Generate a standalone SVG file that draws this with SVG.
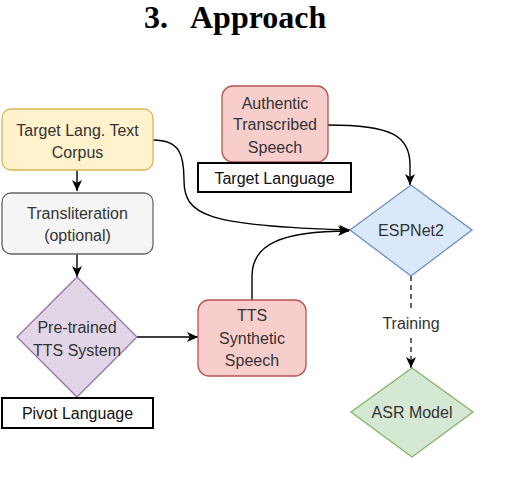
<svg xmlns="http://www.w3.org/2000/svg" width="508" height="490" viewBox="0 0 508 490">
<defs>
<marker id="arr" markerWidth="12" markerHeight="11" refX="11" refY="5.5" orient="auto" markerUnits="userSpaceOnUse">
<path d="M0,0.5 L11,5.5 L0,10.5 L3,5.5 Z" fill="#000"/>
</marker>
</defs>
<style>
.t{font-family:"Liberation Sans",Arial,sans-serif;font-size:16px;fill:#333;text-anchor:middle}
.tb{font-family:"Liberation Sans",Arial,sans-serif;font-size:16px;fill:#111;text-anchor:middle}
.title{font-family:"Liberation Serif","Times New Roman",serif;font-size:32px;font-weight:bold;fill:#000}
.e{fill:none;stroke:#000;stroke-width:1.4}
.d{fill:none;stroke:#000;stroke-width:1.2;stroke-dasharray:5,4}
.lbl{fill:#fff;stroke:#000;stroke-width:2}
</style>
<rect width="508" height="490" fill="#fff"/>
<text class="title" x="144" y="28">3.</text>
<text class="title" x="190" y="28">Approach</text>

<g id="edges">
<path class="e" d="M77,170 L77,191" marker-end="url(#arr)"/>
<path class="e" d="M77,254 L77,277" marker-end="url(#arr)"/>
<path class="e" d="M137,337 L198,337" marker-end="url(#arr)"/>
<path class="e" d="M153,140 C180,140 184,155 184,180 C184,215 205,226 350,230" marker-end="url(#arr)"/>
<path class="e" d="M252,300 L252,276 C252,245 280,231 349,231" marker-end="url(#arr)"/>
<path class="e" d="M328,125 C392,125 410,136 410,165 L410,185" marker-end="url(#arr)"/>
<path class="d" d="M411,276 L411,308"/>
<path class="d" d="M411,338 L411,368" marker-end="url(#arr)"/>
<text class="t" x="411" y="329">Training</text>
</g>

<g id="corpus">
<rect x="2" y="109" width="151" height="61" rx="9" fill="#fff2cc" stroke="#d6b656" stroke-width="1.3"/>
<text class="t" x="77.5" y="136">Target Lang. Text</text>
<text class="t" x="77.5" y="158">Corpus</text>
</g>

<g id="translit">
<rect x="2" y="193" width="151" height="61" rx="9" fill="#f5f5f5" stroke="#666" stroke-width="1.3"/>
<text class="t" x="77.5" y="219">Transliteration</text>
<text class="t" x="77.5" y="241">(optional)</text>
</g>

<g id="tts-system">
<path d="M77,277 L137,337 L77,397 L17,337 Z" fill="#e1d5e7" stroke="#9673a6" stroke-width="1.3"/>
<text class="t" x="77" y="333">Pre-trained</text>
<text class="t" x="77" y="356">TTS System</text>
</g>

<g id="pivot">
<rect x="2" y="398" width="151" height="30" class="lbl"/>
<text class="tb" x="77.5" y="419">Pivot Language</text>
</g>

<g id="tts-speech">
<rect x="198" y="300" width="108" height="76" rx="11" fill="#f8cecc" stroke="#b85450" stroke-width="1.3"/>
<text class="t" x="252" y="321">TTS</text>
<text class="t" x="252" y="344">Synthetic</text>
<text class="t" x="252" y="366">Speech</text>
</g>

<g id="authentic">
<rect x="222" y="86" width="106" height="76" rx="11" fill="#f8cecc" stroke="#b85450" stroke-width="1.3"/>
<text class="t" x="275" y="109">Authentic</text>
<text class="t" x="275" y="130">Transcribed</text>
<text class="t" x="275" y="153">Speech</text>
</g>

<g id="target-lang">
<rect x="198" y="163" width="153" height="29" class="lbl"/>
<text class="tb" x="274.5" y="184">Target Language</text>
</g>

<g id="espnet">
<path d="M411,185 L472,230 L411,276 L350,230 Z" fill="#dae8fc" stroke="#6c8ebf" stroke-width="1.3"/>
<text class="t" x="411" y="236">ESPNet2</text>
</g>

<g id="asr">
<path d="M412,368 L473,412 L412,457 L351,412 Z" fill="#d5e8d4" stroke="#82b366" stroke-width="1.3"/>
<text class="t" x="412" y="418">ASR Model</text>
</g>
</svg>
